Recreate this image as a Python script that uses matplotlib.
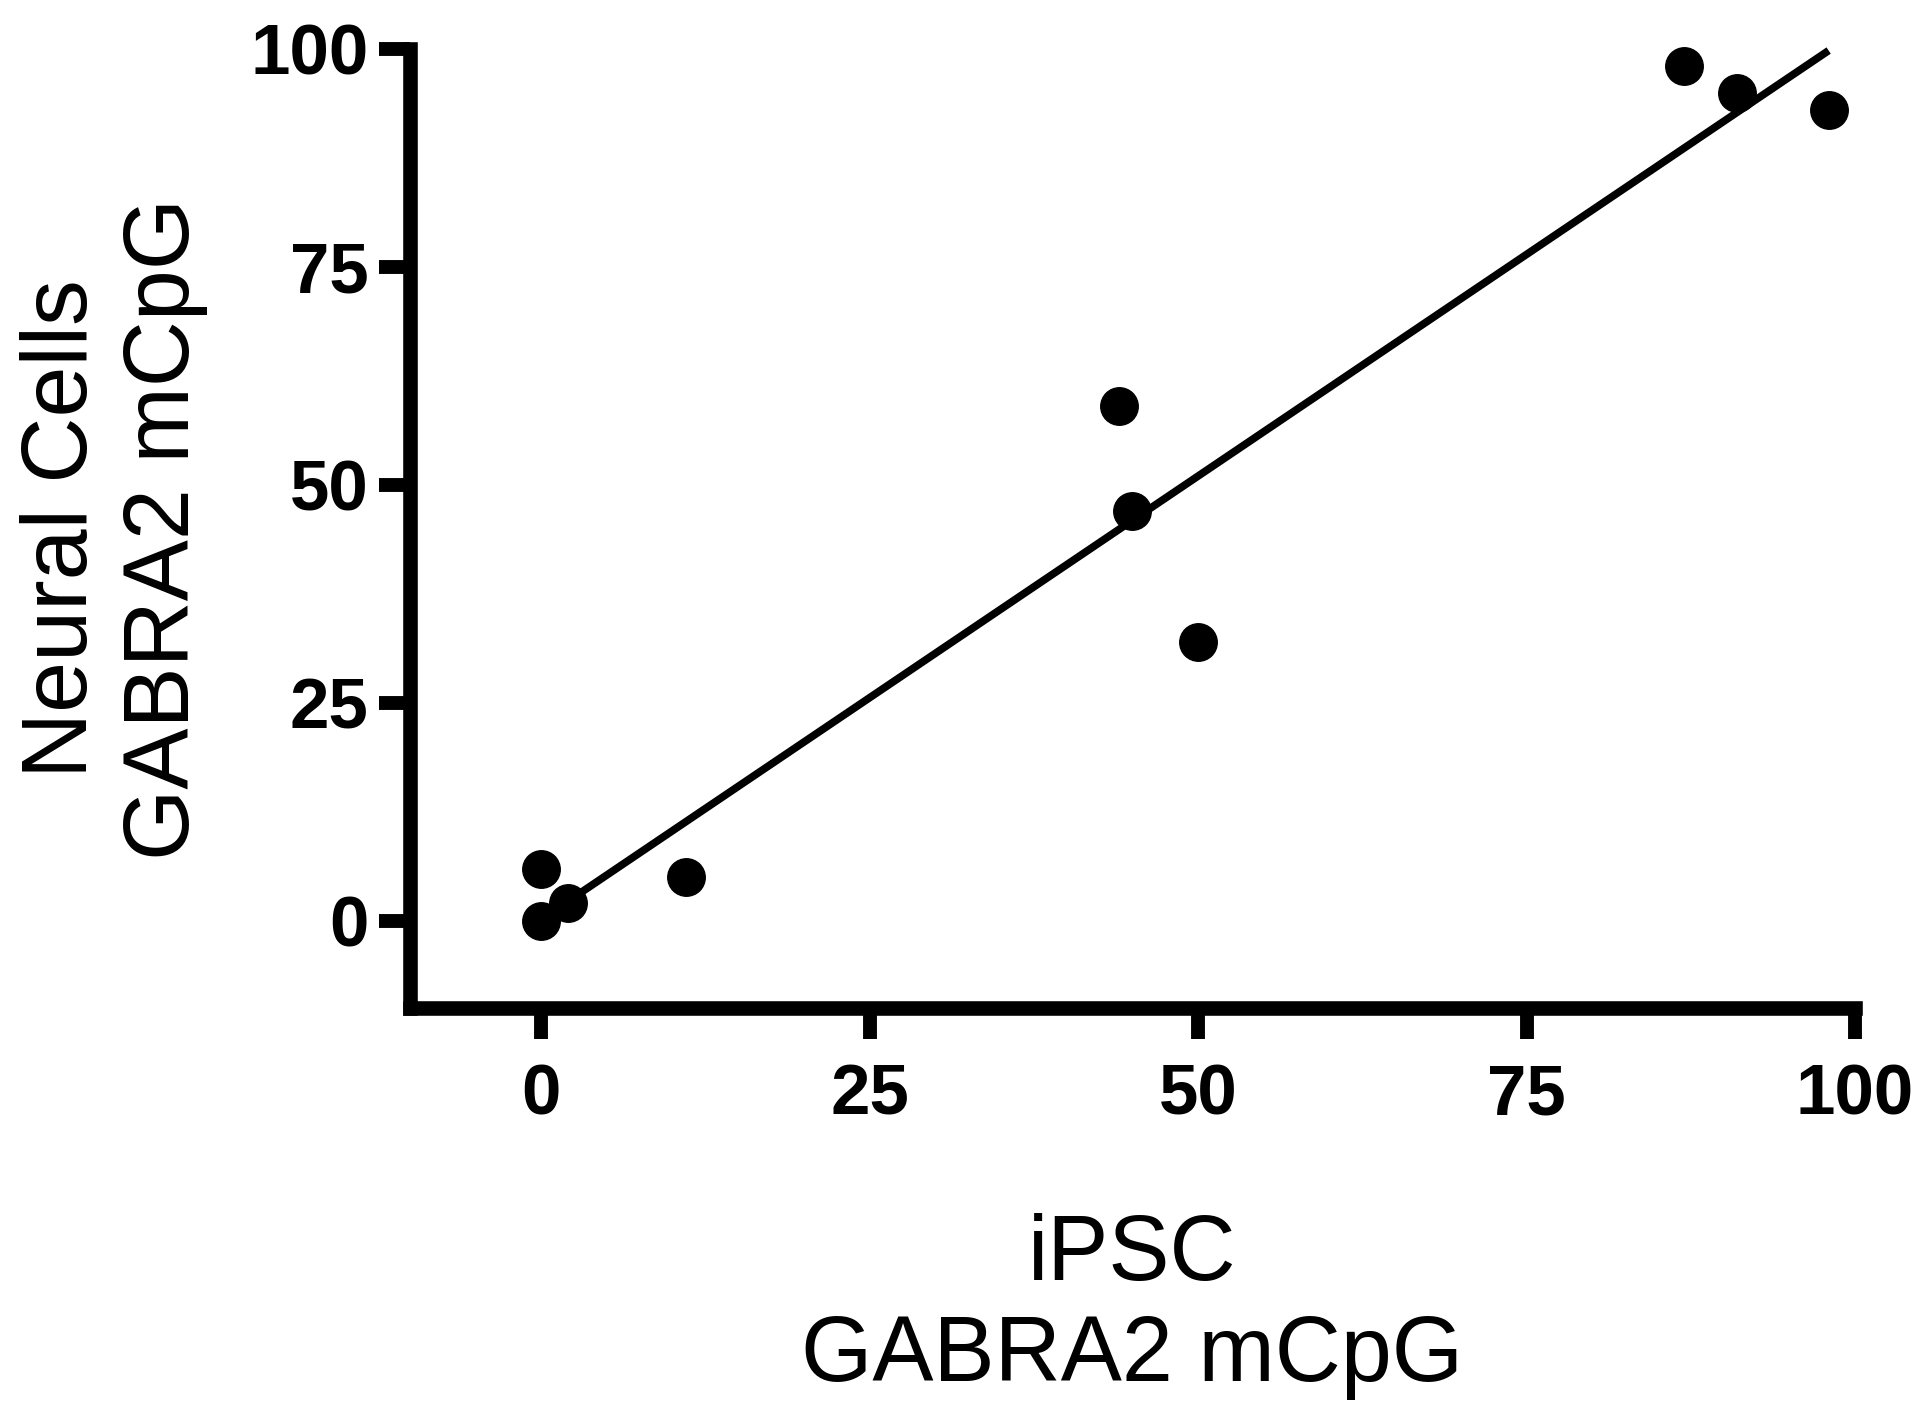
import matplotlib
matplotlib.use("Agg")
import matplotlib.pyplot as plt
import numpy as np

plt.rcParams['font.family'] = ['Liberation Sans', 'DejaVu Sans']

# GABRA2 mCpG (%) per sample
ipsc = [0, 0, 2, 11, 44, 45, 50, 87, 91, 98]
neural = [6, 0, 2, 5, 59, 47, 32, 98, 95, 93]

x_ticks = [0, 25, 50, 75, 100]
y_ticks = [0, 25, 50, 75, 100]

fig = plt.figure(figsize=(19.2, 14.17), dpi=100)
ax = fig.add_axes([0.2135, 0.2886, 0.7526, 0.6768])

# linear regression line over the data range
slope, intercept = np.polyfit(ipsc, neural, 1)
xs = np.array([min(ipsc), max(ipsc)])
ax.plot(xs, slope * xs + intercept, color='black', linewidth=5.5,
        solid_capstyle='butt', clip_on=False, zorder=2)

ax.plot(ipsc, neural, 'o', color='black', markersize=27, clip_on=False, zorder=3)

ax.set_xlim(-10, 100)
ax.set_ylim(-10, 100)
ax.set_xticks(x_ticks)
ax.set_yticks(y_ticks)

for side in ['top', 'right']:
    ax.spines[side].set_visible(False)
for side in ['left', 'bottom']:
    ax.spines[side].set_linewidth(10.5)
    ax.spines[side].set_capstyle('projecting')

ax.tick_params(axis='both', width=10, length=22, labelsize=51, color='black')
ax.tick_params(axis='x', pad=18)
ax.tick_params(axis='y', pad=8)
for lab in ax.get_xticklabels() + ax.get_yticklabels():
    lab.set_fontweight('bold')

ax.set_xlabel("iPSC\nGABRA2 mCpG", fontsize=66, labelpad=60, linespacing=1.22)
ax.set_ylabel("Neural Cells\nGABRA2 mCpG", fontsize=66, labelpad=30, linespacing=1.25)

fig.savefig("out.png", dpi=100)
